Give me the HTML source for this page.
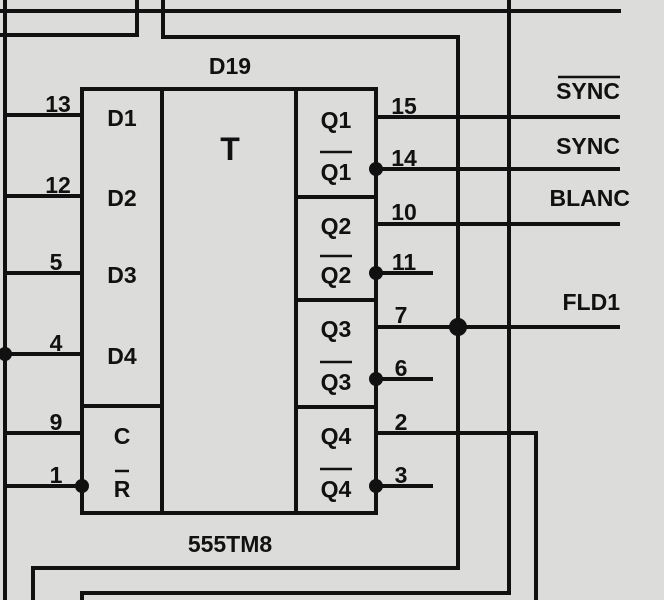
<!DOCTYPE html>
<html><head><meta charset="utf-8"><style>
html,body{margin:0;padding:0;background:#dcdcda;}
svg{display:block}
text{font-family:"Liberation Sans",sans-serif;font-weight:bold;fill:#111;}
</style></head><body>
<svg width="664" height="600" viewBox="0 0 664 600" xmlns="http://www.w3.org/2000/svg">
<rect width="664" height="600" fill="#dcdcda"/>
<g stroke="#111" stroke-width="4" fill="none" stroke-linecap="square">
<line x1="0" y1="11" x2="619" y2="11"/>
<line x1="5" y1="0" x2="5" y2="600"/>
<polyline points="137,0 137,35 0,35"/>
<polyline points="163,0 163,37 458,37 458,568 33,568 33,600"/>
<polyline points="509,0 509,593 82,593 82,600"/>
<polyline points="376,433 536,433 536,600"/>
<rect x="82" y="89" width="294" height="424"/>
<line x1="162" y1="89" x2="162" y2="513"/>
<line x1="296" y1="89" x2="296" y2="513"/>
<line x1="82" y1="406" x2="162" y2="406"/>
<line x1="296" y1="197" x2="376" y2="197"/>
<line x1="296" y1="300" x2="376" y2="300"/>
<line x1="296" y1="407" x2="376" y2="407"/>
<line x1="5" y1="115" x2="82" y2="115"/>
<line x1="5" y1="196" x2="82" y2="196"/>
<line x1="5" y1="273" x2="82" y2="273"/>
<line x1="5" y1="354" x2="82" y2="354"/>
<line x1="5" y1="433" x2="82" y2="433"/>
<line x1="5" y1="486" x2="82" y2="486"/>
<line x1="376" y1="117" x2="618" y2="117"/>
<line x1="376" y1="169" x2="618" y2="169"/>
<line x1="376" y1="224" x2="618" y2="224"/>
<line x1="376" y1="273" x2="431" y2="273"/>
<line x1="376" y1="327" x2="618" y2="327"/>
<line x1="376" y1="379" x2="431" y2="379"/>
<line x1="376" y1="486" x2="431" y2="486"/>
</g>
<g fill="#111">
<circle cx="5" cy="354" r="7"/>
<circle cx="82" cy="486" r="7"/>
<circle cx="376" cy="169" r="7"/>
<circle cx="376" cy="273" r="7"/>
<circle cx="376" cy="379" r="7"/>
<circle cx="376" cy="486" r="7"/>
<circle cx="458" cy="327" r="9"/>
</g>
<g font-size="23">
<text x="230" y="74" text-anchor="middle">D19</text>
<text x="230" y="552" text-anchor="middle">555TM8</text>
<text x="230" y="160" text-anchor="middle" font-size="32" font-weight="normal">T</text>
<text x="122" y="126" text-anchor="middle">D1</text>
<text x="122" y="206" text-anchor="middle">D2</text>
<text x="122" y="283" text-anchor="middle">D3</text>
<text x="122" y="364" text-anchor="middle">D4</text>
<text x="122" y="444" text-anchor="middle">C</text>
<text x="122" y="497" text-anchor="middle">R</text>
<text x="336" y="128" text-anchor="middle">Q1</text>
<text x="336" y="180" text-anchor="middle">Q1</text>
<text x="336" y="234" text-anchor="middle">Q2</text>
<text x="336" y="283" text-anchor="middle">Q2</text>
<text x="336" y="337" text-anchor="middle">Q3</text>
<text x="336" y="390" text-anchor="middle">Q3</text>
<text x="336" y="444" text-anchor="middle">Q4</text>
<text x="336" y="497" text-anchor="middle">Q4</text>
<text x="620" y="99" text-anchor="end">SYNC</text>
<text x="620" y="154" text-anchor="end">SYNC</text>
<text x="630" y="206" text-anchor="end">BLANC</text>
<text x="620" y="310" text-anchor="end">FLD1</text>
</g>
<g stroke="#111" stroke-width="2.5">
<line x1="115" y1="471" x2="129" y2="471"/>
<line x1="320" y1="152" x2="352" y2="152"/>
<line x1="320" y1="256" x2="352" y2="256"/>
<line x1="320" y1="362" x2="352" y2="362"/>
<line x1="320" y1="469" x2="352" y2="469"/>
<line x1="558" y1="77" x2="620" y2="77"/>
</g>
<g font-size="23">
<text x="58" y="112" text-anchor="middle">13</text>
<text x="58" y="193" text-anchor="middle">12</text>
<text x="56" y="270" text-anchor="middle">5</text>
<text x="56" y="351" text-anchor="middle">4</text>
<text x="56" y="430" text-anchor="middle">9</text>
<text x="56" y="483" text-anchor="middle">1</text>
<text x="404" y="114" text-anchor="middle">15</text>
<text x="404" y="166" text-anchor="middle">14</text>
<text x="404" y="220" text-anchor="middle">10</text>
<text x="404" y="270" text-anchor="middle">11</text>
<text x="401" y="323" text-anchor="middle">7</text>
<text x="401" y="376" text-anchor="middle">6</text>
<text x="401" y="430" text-anchor="middle">2</text>
<text x="401" y="483" text-anchor="middle">3</text>
</g>
</svg>
</body></html>
